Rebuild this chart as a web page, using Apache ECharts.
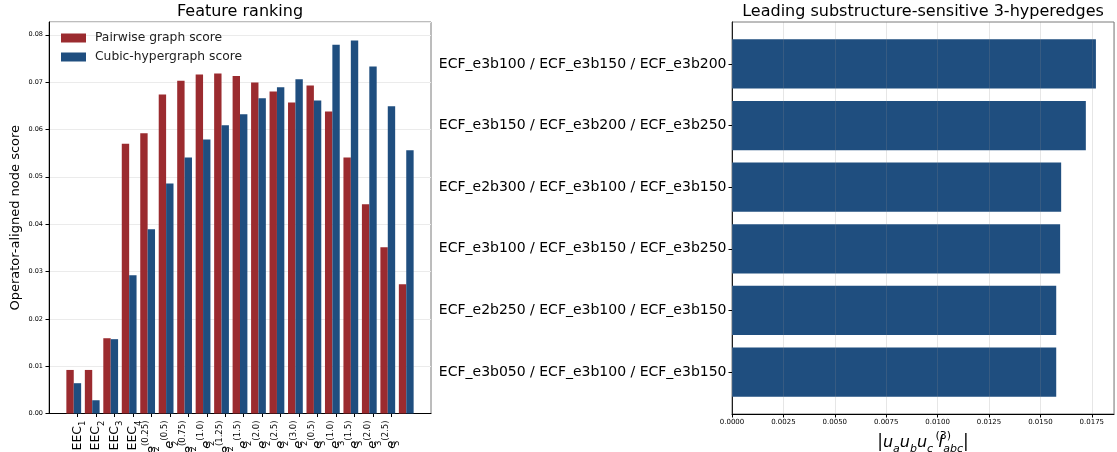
<!DOCTYPE html>
<html><head><meta charset="utf-8">
<script src="https://cdn.jsdelivr.net/npm/echarts@6/dist/echarts.min.js"></script>
<style>html,body{margin:0;padding:0;background:#fff}#c{width:1117px;height:452px}</style>
</head><body><div id="c"></div>
<script>
// ---- data ----
const featureLabels = ['EEC_{1}','EEC_{2}','EEC_{3}','EEC_{4}',
  'e_{2}^{(0.25)}','e_{2}^{(0.5)}','e_{2}^{(0.75)}','e_{2}^{(1.0)}','e_{2}^{(1.25)}','e_{2}^{(1.5)}',
  'e_{2}^{(2.0)}','e_{2}^{(2.5)}','e_{2}^{(3.0)}',
  'e_{3}^{(0.5)}','e_{3}^{(1.0)}','e_{3}^{(1.5)}','e_{3}^{(2.0)}','e_{3}^{(2.5)}','e_{3}^{(3.0)}'];
const pairwiseScore = [0.0092,0.0092,0.0159,0.0570,0.0592,0.0674,0.0703,0.0716,0.0718,0.0713,
  0.0699,0.0680,0.0657,0.0693,0.0638,0.0541,0.0442,0.0351,0.0273];
const cubicScore = [0.0064,0.0028,0.0157,0.0292,0.0389,0.0486,0.0541,0.0579,0.0609,0.0632,
  0.0666,0.0689,0.0706,0.0661,0.0779,0.0788,0.0733,0.0649,0.0556];
const hyperedges = ['ECF_e3b100 / ECF_e3b150 / ECF_e3b200','ECF_e3b150 / ECF_e3b200 / ECF_e3b250',
  'ECF_e2b300 / ECF_e3b100 / ECF_e3b150','ECF_e3b100 / ECF_e3b150 / ECF_e3b250',
  'ECF_e2b250 / ECF_e3b100 / ECF_e3b150','ECF_e3b050 / ECF_e3b100 / ECF_e3b150'];
const hyperedgeScore = [0.01770,0.01721,0.01601,0.01596,0.01577,0.01577];
const seriesNames = ['Pairwise graph score','Cubic-hypergraph score'];
const titles = ['Feature ranking','Leading substructure-sensitive 3-hyperedges'];

// ---- style ----
const RED = '#9b2b2f', BLUE = '#1f4e7f';
const FONT = 'DejaVu Sans';

function parseLabel(s){
  const m = s.match(/^([A-Za-z]+)_\{([^}]*)\}(?:\^\{([^}]*)\})?$/);
  return {base:m[1], sub:m[2], sup:m[3]||''};
}
function fmtFeature(v){
  const i = Math.round(v - 0.2);
  const p = parseLabel(featureLabels[i]);
  if (!p.sup) return '{b|' + p.base + '}{s|' + p.sub + '}';
  return '{bi|' + p.base + '}{sw|' + p.sub + '}{p|' + p.sup + '}';
}
const tickPos = featureLabels.map((_, i) => i + 0.2);

const chart = echarts.init(document.getElementById('c'), null, {renderer:'canvas'});
chart.setOption({
  animation: false,
  textStyle: {fontFamily: FONT},
  title: [
    {text: titles[0], left: 240, top: 4, textAlign: 'center', padding: 0,
     textStyle: {fontSize: 16, fontWeight: 'normal', color: '#000', fontFamily: FONT}},
    {text: titles[1], left: 923, top: 4, textAlign: 'center', padding: 0,
     textStyle: {fontSize: 16, fontWeight: 'normal', color: '#000', fontFamily: FONT}}
  ],
  legend: {
    data: seriesNames, orient: 'vertical', left: 61, top: 31, padding: 0,
    itemWidth: 25, itemHeight: 9, itemGap: 5, icon: 'rect',
    textStyle: {fontSize: 12.3, color: '#222', lineHeight: 14, fontFamily: FONT, padding: [0,0,0,4]}
  },
  grid: [
    {left: 49, right: 686, top: 22, bottom: 38.5, show: true, borderColor: '#7a7a7a', borderWidth: 1, outerBoundsMode: 'none', containLabel: false},
    {left: 732, right: 3, top: 22, bottom: 38, show: true, borderColor: '#7a7a7a', borderWidth: 1, outerBoundsMode: 'none', containLabel: false},
    {left: 732, right: 3, top: 33.1, bottom: 49.1, outerBoundsMode: 'none', containLabel: false}
  ],
  xAxis: [
    {gridIndex: 0, type: 'value', min: -1.34, max: 19.34,
     axisLine: {show: true, onZero: false, lineStyle: {color: '#000', width: 1}},
     axisTick: {show: true, customValues: tickPos, length: 3.5, lineStyle: {color: '#000'}},
     axisLabel: {show: true, customValues: tickPos, rotate: 90, margin: 7, formatter: fmtFeature,
       rich: {
         b: {fontSize: 12.5, lineHeight: 20, color: '#000', fontFamily: FONT},
         bi: {fontSize: 13, lineHeight: 20, color: '#000', fontStyle: 'italic', fontFamily: FONT},
         s: {fontSize: 8.5, lineHeight: 8, verticalAlign: 'bottom', color: '#000', fontFamily: FONT},
         sw: {fontSize: 8.5, lineHeight: 8, verticalAlign: 'bottom', color: '#000', width: 0.01, fontFamily: FONT},
         p: {fontSize: 8.5, lineHeight: 8, verticalAlign: 'top', color: '#000', fontFamily: FONT}
       }},
     splitLine: {show: false}},
    {gridIndex: 1, type: 'value', min: 0, max: 0.01858, interval: 0.0025, z: 3,
     axisLine: {show: true, onZero: false, lineStyle: {color: '#000', width: 1}},
     axisTick: {show: true, length: 3.5, lineStyle: {color: '#000'}},
     axisLabel: {fontSize: 7, color: '#000', margin: 5, formatter: v => v.toFixed(4), showMaxLabel: false},
     splitLine: {show: true, lineStyle: {color: 'rgba(140,140,140,0.22)', width: 1}},
     name: '|{i|u}{s|a}{i|u}{s|b}{i|u}{s|c} {i|I}{pw|(3)}{s|abc}|', nameLocation: 'middle', nameGap: 17,
     nameTextStyle: {fontSize: 17, color: '#000', fontFamily: FONT, lineHeight: 24,
       rich: {
         i: {fontSize: 16, lineHeight: 24, fontStyle: 'italic', color: '#000', fontFamily: FONT},
         s: {fontSize: 11, lineHeight: 11, verticalAlign: 'bottom', fontStyle: 'italic', color: '#000', fontFamily: FONT},
         pw: {fontSize: 11, lineHeight: 11, verticalAlign: 'top', color: '#000', width: 0.01, fontFamily: FONT}
       }}},
    {gridIndex: 2, type: 'value', min: 0, max: 0.01858, show: false}
  ],
  yAxis: [
    {gridIndex: 0, type: 'value', min: 0, max: 0.0827, interval: 0.01,
     axisLine: {show: true, onZero: false, lineStyle: {color: '#000', width: 1}},
     axisTick: {show: true, length: 3.5, lineStyle: {color: '#000'}},
     axisLabel: {fontSize: 6.5, color: '#000', margin: 6, formatter: v => v.toFixed(2), showMaxLabel: false},
     splitLine: {show: true, lineStyle: {color: '#ebebeb', width: 1}},
     name: 'Operator-aligned node score', nameLocation: 'middle', nameGap: 27,
     nameTextStyle: {fontSize: 13, color: '#000', fontFamily: FONT}},
    {gridIndex: 1, type: 'value', min: 0, max: 1,
     axisLine: {show: true, onZero: false, lineStyle: {color: '#000', width: 1}},
     axisTick: {show: false}, axisLabel: {show: false}, splitLine: {show: false}},
    {gridIndex: 2, type: 'category', inverse: true, data: hyperedges,
     axisLine: {show: false},
     axisTick: {show: true, alignWithLabel: true, length: 3.5, lineStyle: {color: '#000'}},
     axisLabel: {fontSize: 14, color: '#000', margin: 5.5, fontFamily: FONT},
     splitLine: {show: false}}
  ],
  series: [
    {name: seriesNames[0], type: 'bar', xAxisIndex: 0, yAxisIndex: 0,
     data: pairwiseScore.map((v, i) => [i, v]), barWidth: '40%', barGap: '0%',
     itemStyle: {color: RED}},
    {name: seriesNames[1], type: 'bar', xAxisIndex: 0, yAxisIndex: 0,
     data: cubicScore.map((v, i) => [i, v]), barWidth: '40%', barGap: '0%',
     itemStyle: {color: BLUE}},
    {name: 'hyperedge', type: 'bar', xAxisIndex: 2, yAxisIndex: 2,
     data: hyperedgeScore, barCategoryGap: '20%', itemStyle: {color: BLUE}}
  ]
});
</script></body></html>
